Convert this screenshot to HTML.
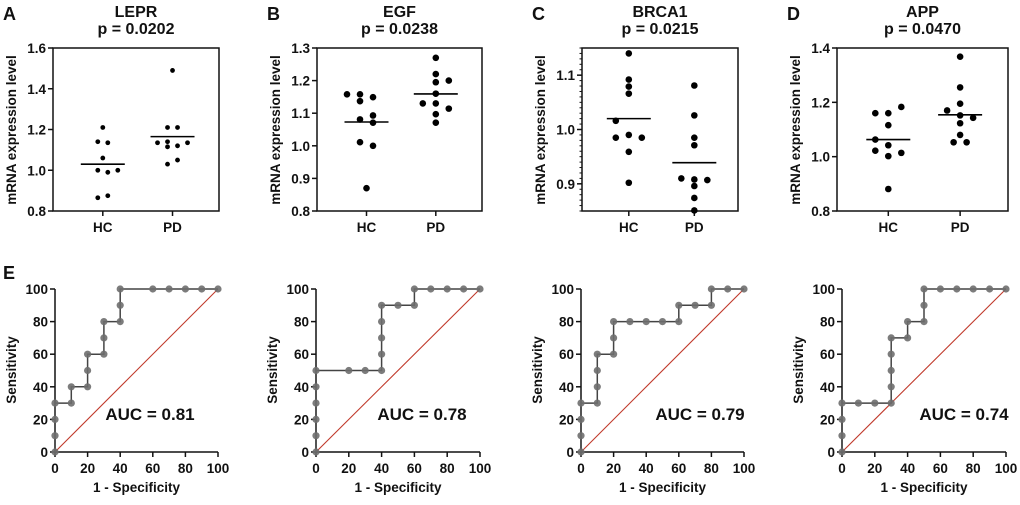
<!DOCTYPE html>
<html><head><meta charset="utf-8"><style>
html,body{margin:0;padding:0;background:#fff;}
svg text{font-family:"Liberation Sans",Arial,sans-serif;font-weight:bold;fill:#111;}
</style></head><body>
<svg id="fig" width="1020" height="500" viewBox="0 0 1020 500" xmlns="http://www.w3.org/2000/svg"></svg>
<script>
// ---- scatter panel data ----
const genes = ["LEPR","EGF","BRCA1","APP"];
const pvals = ["p = 0.0202","p = 0.0238","p = 0.0215","p = 0.0470"];
const groups = ["HC","PD"];
const hcVals = [
 [1.21,1.14,1.135,1.06,1.00,0.99,1.00,0.865,0.875],
 [1.158,1.158,1.149,1.137,1.093,1.081,1.071,1.011,1.000,0.870],
 [1.140,1.092,1.079,1.066,1.016,0.985,0.990,0.985,0.959,0.902],
 [1.160,1.160,1.183,1.116,1.063,1.042,1.022,1.002,1.014,0.881]];
const hcCols = [
 [0,-0.5,0.5,0,-0.5,0.5,1.5,-0.5,0.5],
 [-1.5,-0.5,0.5,-0.5,0.5,-0.5,0.5,-0.5,0.5,0],
 [0,0,0,0,-1,-1,0,1,0,0],
 [-1,0,1,0,-1,0,-1,0,1,0]];
const pdVals = [
 [1.49,1.21,1.21,1.135,1.14,1.135,1.115,1.12,1.03,1.05],
 [1.27,1.22,1.195,1.20,1.16,1.13,1.13,1.114,1.097,1.071],
 [1.081,1.026,0.985,0.971,0.910,0.908,0.907,0.896,0.874,0.851],
 [1.368,1.255,1.195,1.170,1.152,1.143,1.123,1.080,1.053,1.053]];
const pdCols = [
 [0,-0.5,0.5,-1.5,-0.5,1.5,-0.5,0.5,-0.5,0.5],
 [0,0,0,1,0,-1,0,1,0,0],
 [0,0,0,0,-1,0,1,0,0,0],
 [0,0,0,-1,0,1,0,0,-0.5,0.5]];
const hcMeans = [1.03,1.073,1.020,1.063];
const pdMeans = [1.165,1.159,0.939,1.154];
const yMins = [0.8,0.8,0.85,0.8];
const yMaxs = [1.6,1.3,1.15,1.4];
const yTicks = [[0.8,1.0,1.2,1.4,1.6],[0.8,0.9,1.0,1.1,1.2,1.3],[0.9,1.0,1.1],[0.8,1.0,1.2,1.4]];
const yTickLabels = [["0.8","1.0","1.2","1.4","1.6"],["0.8","0.9","1.0","1.1","1.2","1.3"],["0.9","1.0","1.1"],["0.8","1.0","1.2","1.4"]];
// ---- ROC data ----
const rocX = [
 [0,0,0,0,10,10,20,20,20,30,30,30,40,40,40,60,70,80,90,100],
 [0,0,0,0,0,0,20,30,40,40,40,40,40,50,60,60,70,80,90,100],
 [0,0,0,0,10,10,10,10,20,20,20,30,40,50,60,60,70,80,80,90,100],
 [0,0,0,0,10,20,30,30,30,30,30,40,40,50,50,50,60,70,80,90,100]];
const rocY = [
 [0,10,20,30,30,40,40,50,60,60,70,80,80,90,100,100,100,100,100,100],
 [0,10,20,30,40,50,50,50,50,60,70,80,90,90,90,100,100,100,100,100],
 [0,10,20,30,30,40,50,60,60,70,80,80,80,80,80,90,90,90,100,100,100],
 [0,10,20,30,30,30,30,40,50,60,70,70,80,80,90,100,100,100,100,100,100]];
const aucLabels = ["AUC = 0.81","AUC = 0.78","AUC = 0.79","AUC = 0.74"];
const rocTicks = [0,20,40,60,80,100];

const NS="http://www.w3.org/2000/svg";
const svg=document.getElementById('fig');
function mk(tag,attrs,parent){const e=document.createElementNS(NS,tag);for(const k in attrs)e.setAttribute(k,attrs[k]);(parent||svg).appendChild(e);return e;}
function txt(s,attrs,parent){const e=mk('text',attrs,parent);e.textContent=s;return e;}

const boxL=[53,317,582,837], boxR=[219,482,738,1008], boxT=48, boxB=211;
const spacing=[10,13,13,13], dotR=[2.4,3.3,3.3,3.3];
const letters=["A","B","C","D"];
for(let p=0;p<4;p++){
  const g=mk('g',{});
  
  
  const L=boxL[p],R=boxR[p],W=R-L;
  const ys=v=>boxB-(v-yMins[p])/(yMaxs[p]-yMins[p])*(boxB-boxT);
  const cx=[L+0.3*W,L+0.72*W];
  const lt=txt(letters[p],{x:L-50,y:20,'font-size':18},g);
  
  const cxm=(L+R)/2;
  const t1=txt(genes[p],{x:cxm,y:17,'font-size':16,'text-anchor':'middle'},g);
  
  const t2=txt(pvals[p],{x:cxm,y:34,'font-size':16,'text-anchor':'middle'},g);
  
  const bx=mk('rect',{x:L,y:boxT,width:W,height:boxB-boxT,fill:'none',stroke:'#111','stroke-width':1.5},g);
  
  if(p===2){for(let v=0.85;v<=1.151;v+=0.01){const y=ys(v);mk('line',{x1:L-2.5,x2:L,y1:y,y2:y,stroke:'#111','stroke-width':1},g);}}
  yTicks[p].forEach((v,i)=>{const y=ys(v);mk('line',{x1:L-5,x2:L,y1:y,y2:y,stroke:'#111','stroke-width':1.5},g);
    const tl=txt(yTickLabels[p][i],{x:L-7,y:y+5,'font-size':13.5,'text-anchor':'end'},g);
    });
  groups.forEach((gn,i)=>{mk('line',{x1:cx[i],x2:cx[i],y1:boxB,y2:boxB+5,stroke:'#111','stroke-width':1.5},g);
    const xl=txt(gn,{x:cx[i],y:232,'font-size':13.5,'text-anchor':'middle'},g);
    });
  const yt=txt('mRNA expression level',{x:0,y:0,'font-size':13.5,'text-anchor':'middle',transform:`translate(${L-37},130) rotate(-90)`},g);
  
  [[hcVals,hcCols,hcMeans],[pdVals,pdCols,pdMeans]].forEach((set,i)=>{
    set[0][p].forEach((v,j)=>{const c=mk('circle',{cx:cx[i]+set[1][p][j]*spacing[p],cy:ys(v),r:dotR[p],fill:'#000'},g);
      });
    const m=ys(set[2][p]);
    const ml=mk('line',{x1:cx[i]-22,x2:cx[i]+22,y1:m,y2:m,stroke:'#000','stroke-width':1.6},g);
    
  });
}
// ROC
const x0s=[55,316,581,842], x1s=[218,480,744,1006], rT=289, rB=452;
const aucX=[150,422,700,964];
const el=txt('E',{x:3,y:279,'font-size':18});

for(let p=0;p<4;p++){
  const g=mk('g',{});
  
  
  const X=v=>x0s[p]+v/100*(x1s[p]-x0s[p]);
  const Y=v=>rB-v/100*(rB-rT);
  const dg=mk('line',{x1:X(0),y1:Y(0),x2:X(100),y2:Y(100),stroke:'#c0392b','stroke-width':1.1},g);
  
  mk('line',{x1:X(0),x2:X(0),y1:Y(100),y2:Y(0)+0.75,stroke:'#111','stroke-width':1.5},g);
  mk('line',{x1:X(0)-0.75,x2:X(100),y1:Y(0),y2:Y(0),stroke:'#111','stroke-width':1.5},g);
  rocTicks.forEach(v=>{
    mk('line',{x1:X(0)-5,x2:X(0),y1:Y(v),y2:Y(v),stroke:'#111','stroke-width':1.5},g);
    mk('line',{x1:X(v),x2:X(v),y1:Y(0),y2:Y(0)+5,stroke:'#111','stroke-width':1.5},g);
    const a=txt(String(v),{x:X(0)-7,y:Y(v)+5,'font-size':13.5,'text-anchor':'end'},g);
    
    const b=txt(String(v),{x:X(v),y:Y(0)+21,'font-size':13.5,'text-anchor':'middle'},g);
    
  });
  const xt=txt('1 - Specificity',{x:(X(0)+X(100))/2,y:492,'font-size':13.5,'text-anchor':'middle'},g);
  
  const yt=txt('Sensitivity',{x:0,y:0,'font-size':13.5,'text-anchor':'middle',transform:`translate(${X(0)-39},370) rotate(-90)`},g);
  
  const pts=rocX[p].map((v,i)=>X(v)+','+Y(rocY[p][i])).join(' ');
  const pl=mk('polyline',{points:pts,fill:'none',stroke:'#444','stroke-width':1.5},g);
  
  rocX[p].forEach((v,i)=>{const c=mk('circle',{cx:X(v),cy:Y(rocY[p][i]),r:3.6,fill:'#6e6e6e','fill-opacity':0.9},g);
    });
  const at=txt(aucLabels[p],{x:aucX[p],y:420,'font-size':17,'text-anchor':'middle'},g);
  
}
</script>
</body></html>
